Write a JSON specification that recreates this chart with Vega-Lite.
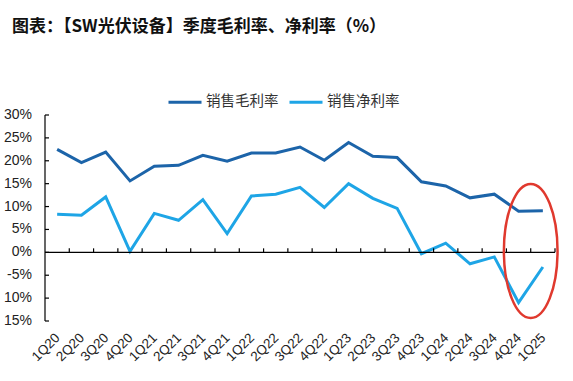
{
  "$schema": "https://vega.github.io/schema/vega-lite/v6.json",
  "width": 510,
  "height": 206,
  "autosize": "none",
  "padding": {"left": 45, "top": 115, "right": 18, "bottom": 60},
  "background": "white",
  "title": {
    "text": "图表：【SW光伏设备】季度毛利率、净利率（%）",
    "anchor": "start",
    "frame": "group",
    "dx": -33,
    "offset": 48,
    "font": "Noto Sans CJK SC",
    "fontSize": 17,
    "fontWeight": "bold",
    "color": "#111111"
  },
  "config": {
    "view": {"stroke": null},
    "font": "Liberation Sans"
  },
  "datasets": {
    "margins": [
      {"q": "1Q20", "series": "销售毛利率", "v": 22.5},
      {"q": "2Q20", "series": "销售毛利率", "v": 19.6},
      {"q": "3Q20", "series": "销售毛利率", "v": 21.9},
      {"q": "4Q20", "series": "销售毛利率", "v": 15.6},
      {"q": "1Q21", "series": "销售毛利率", "v": 18.8},
      {"q": "2Q21", "series": "销售毛利率", "v": 19.0},
      {"q": "3Q21", "series": "销售毛利率", "v": 21.2},
      {"q": "4Q21", "series": "销售毛利率", "v": 19.9},
      {"q": "1Q22", "series": "销售毛利率", "v": 21.7},
      {"q": "2Q22", "series": "销售毛利率", "v": 21.7},
      {"q": "3Q22", "series": "销售毛利率", "v": 23.0},
      {"q": "4Q22", "series": "销售毛利率", "v": 20.1},
      {"q": "1Q23", "series": "销售毛利率", "v": 24.0},
      {"q": "2Q23", "series": "销售毛利率", "v": 21.0},
      {"q": "3Q23", "series": "销售毛利率", "v": 20.7},
      {"q": "4Q23", "series": "销售毛利率", "v": 15.4},
      {"q": "1Q24", "series": "销售毛利率", "v": 14.5},
      {"q": "2Q24", "series": "销售毛利率", "v": 11.9},
      {"q": "3Q24", "series": "销售毛利率", "v": 12.7},
      {"q": "4Q24", "series": "销售毛利率", "v": 9.0},
      {"q": "1Q25", "series": "销售毛利率", "v": 9.1},
      {"q": "1Q20", "series": "销售净利率", "v": 8.3},
      {"q": "2Q20", "series": "销售净利率", "v": 8.1},
      {"q": "3Q20", "series": "销售净利率", "v": 12.1},
      {"q": "4Q20", "series": "销售净利率", "v": 0.2},
      {"q": "1Q21", "series": "销售净利率", "v": 8.5},
      {"q": "2Q21", "series": "销售净利率", "v": 7.0},
      {"q": "3Q21", "series": "销售净利率", "v": 11.5},
      {"q": "4Q21", "series": "销售净利率", "v": 4.1},
      {"q": "1Q22", "series": "销售净利率", "v": 12.3},
      {"q": "2Q22", "series": "销售净利率", "v": 12.7},
      {"q": "3Q22", "series": "销售净利率", "v": 14.2},
      {"q": "4Q22", "series": "销售净利率", "v": 9.8},
      {"q": "1Q23", "series": "销售净利率", "v": 15.0},
      {"q": "2Q23", "series": "销售净利率", "v": 11.8},
      {"q": "3Q23", "series": "销售净利率", "v": 9.6},
      {"q": "4Q23", "series": "销售净利率", "v": -0.3},
      {"q": "1Q24", "series": "销售净利率", "v": 2.0},
      {"q": "2Q24", "series": "销售净利率", "v": -2.5},
      {"q": "3Q24", "series": "销售净利率", "v": -1.0},
      {"q": "4Q24", "series": "销售净利率", "v": -11.0},
      {"q": "1Q25", "series": "销售净利率", "v": -3.2}
    ],
    "quarters": [
      {"q": "1Q20"}, {"q": "2Q20"}, {"q": "3Q20"}, {"q": "4Q20"},
      {"q": "1Q21"}, {"q": "2Q21"}, {"q": "3Q21"}, {"q": "4Q21"},
      {"q": "1Q22"}, {"q": "2Q22"}, {"q": "3Q22"}, {"q": "4Q22"},
      {"q": "1Q23"}, {"q": "2Q23"}, {"q": "3Q23"}, {"q": "4Q23"},
      {"q": "1Q24"}, {"q": "2Q24"}, {"q": "3Q24"}, {"q": "4Q24"},
      {"q": "1Q25"}
    ],
    "yticks": [
      {"v": 30, "label": "30%"},
      {"v": 25, "label": "25%"},
      {"v": 20, "label": "20%"},
      {"v": 15, "label": "15%"},
      {"v": 10, "label": "10%"},
      {"v": 5, "label": "5%"},
      {"v": 0, "label": "0%"},
      {"v": -5, "label": "-5%"},
      {"v": -10, "label": "10%"},
      {"v": -15, "label": "15%"}
    ],
    "highlight": [
      {"q": "4Q24", "v": 0.3}
    ]
  },
  "layer": [
    {
      "data": {"name": "margins"},
      "mark": {"type": "line", "strokeWidth": 3, "strokeJoin": "miter"},
      "encoding": {
        "x": {
          "field": "q",
          "type": "nominal",
          "sort": null,
          "scale": {
            "type": "band",
            "paddingInner": 0,
            "paddingOuter": 0,
            "domain": ["1Q20", "2Q20", "3Q20", "4Q20", "1Q21", "2Q21", "3Q21", "4Q21", "1Q22", "2Q22", "3Q22", "4Q22", "1Q23", "2Q23", "3Q23", "4Q23", "1Q24", "2Q24", "3Q24", "4Q24", "1Q25"]
          },
          "axis": null
        },
        "y": {
          "field": "v",
          "type": "quantitative",
          "scale": {"domain": [-15, 30], "nice": false, "zero": false},
          "axis": null
        },
        "color": {
          "field": "series",
          "type": "nominal",
          "sort": ["销售毛利率", "销售净利率"],
          "scale": {"domain": ["销售毛利率", "销售净利率"], "range": ["#1C64A9", "#1EA5E6"]},
          "legend": {
            "title": null,
            "orient": "none",
            "legendX": 122,
            "legendY": -31,
            "direction": "horizontal",
            "symbolType": "stroke",
            "symbolSize": 1089,
            "symbolStrokeWidth": 3,
            "labelFontSize": 14.5,
            "labelOffset": 3,
            "labelColor": "#333333",
            "labelFont": "Noto Sans CJK SC",
            "columnPadding": 4
          }
        }
      }
    },
    {
      "data": {"name": "highlight"},
      "mark": {"type": "rule", "color": "#000000", "strokeWidth": 1.2},
      "encoding": {
        "y": {"datum": 0, "type": "quantitative", "axis": null}
      }
    },
    {
      "data": {"name": "highlight"},
      "mark": {"type": "rule", "color": "#000000", "strokeWidth": 1.2},
      "encoding": {
        "x": {"datum": "1Q20", "type": "nominal", "bandPosition": 0, "axis": null},
        "y": {"datum": -15, "type": "quantitative", "axis": null},
        "y2": {"datum": 30}
      }
    },
    {
      "data": {"name": "quarters"},
      "mark": {
        "type": "point",
        "shape": "M0,0V-1",
        "size": 64,
        "filled": false,
        "stroke": "#000000",
        "strokeWidth": 1.2,
        "opacity": 1
      },
      "encoding": {
        "x": {"field": "q", "type": "nominal", "bandPosition": 1, "axis": null},
        "y": {"datum": 0, "type": "quantitative", "axis": null}
      }
    },
    {
      "data": {"name": "yticks"},
      "mark": {
        "type": "point",
        "shape": "M0,0H1",
        "size": 64,
        "filled": false,
        "stroke": "#000000",
        "strokeWidth": 1.2,
        "opacity": 1
      },
      "encoding": {
        "x": {"datum": "1Q20", "type": "nominal", "bandPosition": 0, "axis": null},
        "y": {"field": "v", "type": "quantitative", "axis": null}
      }
    },
    {
      "data": {"name": "yticks"},
      "mark": {
        "type": "text",
        "align": "right",
        "baseline": "middle",
        "dx": -13,
        "font": "Liberation Sans",
        "fontSize": 14,
        "color": "#222222"
      },
      "encoding": {
        "x": {"datum": "1Q20", "type": "nominal", "bandPosition": 0, "axis": null},
        "y": {"field": "v", "type": "quantitative", "axis": null},
        "text": {"field": "label", "type": "nominal"}
      }
    },
    {
      "data": {"name": "quarters"},
      "mark": {
        "type": "text",
        "align": "right",
        "baseline": "middle",
        "angle": -45,
        "dx": -10,
        "dy": 11,
        "font": "Liberation Sans",
        "fontSize": 13.5,
        "color": "#222222"
      },
      "encoding": {
        "x": {"field": "q", "type": "nominal", "axis": null},
        "y": {"datum": -15, "type": "quantitative", "axis": null},
        "text": {"field": "q", "type": "nominal"}
      }
    },
    {
      "data": {"name": "highlight"},
      "mark": {
        "type": "point",
        "shape": "M0,-1 A0.4,1 0 1,0 0,1 A0.4,1 0 1,0 0,-1",
        "size": 18000,
        "filled": false,
        "stroke": "#E0392E",
        "strokeWidth": 2.5,
        "opacity": 1
      },
      "encoding": {
        "x": {"field": "q", "type": "nominal", "bandPosition": 1, "axis": null},
        "y": {"field": "v", "type": "quantitative", "axis": null}
      }
    }
  ]
}
